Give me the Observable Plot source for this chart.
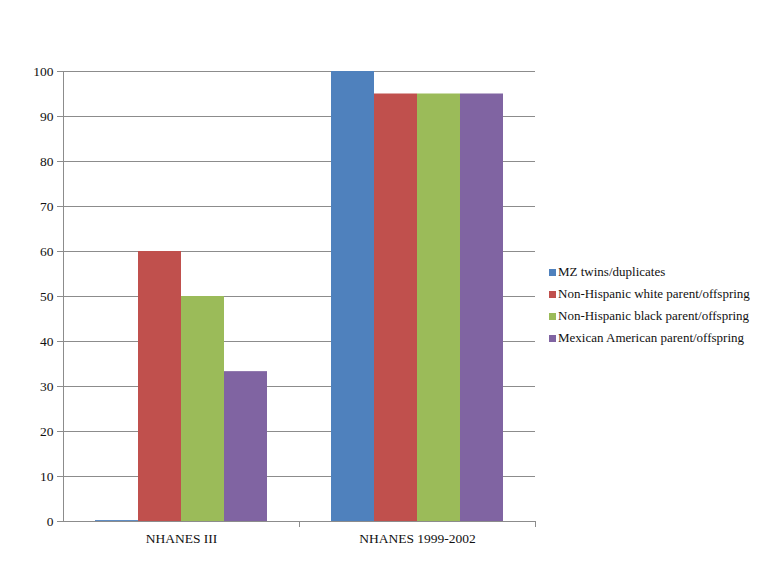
<!DOCTYPE html>
<html>
<head>
<meta charset="utf-8">
<script src="https://cdn.jsdelivr.net/npm/d3@7"></script>
<script src="https://cdn.jsdelivr.net/npm/@observablehq/plot@0.6"></script>
<style>
  html, body { margin: 0; padding: 0; background: white; }
  #wrap { position: relative; width: 777px; height: 583px; }
  #legend { position: absolute; left: 549px; top: 261px; font-family: "Liberation Serif", "DejaVu Serif", "Times New Roman", serif; font-size: 13px; color: #111; }
  .item { height: 22px; line-height: 22px; white-space: nowrap; }
  .sw { display: inline-block; width: 7px; height: 7px; margin-right: 2px; vertical-align: 0px; }
  svg text { font-family: "Liberation Serif", "DejaVu Serif", "Times New Roman", serif; }
</style>
</head>
<body>
<div id="wrap"><div id="legend"></div></div>
<script>
const groups = ["NHANES III", "NHANES 1999-2002"];
const series = [
  "MZ twins/duplicates",
  "Non-Hispanic white parent/offspring",
  "Non-Hispanic black parent/offspring",
  "Mexican American parent/offspring"
];
const valuesNhanes3 = [0.2, 60, 50, 33.3];
const valuesNhanes9902 = [100, 95, 95, 95];
const colors = ["#4F81BD", "#C0504D", "#9BBB59", "#8064A2"];
const yTicks = [0, 10, 20, 30, 40, 50, 60, 70, 80, 90, 100];

const data = [];
series.forEach((s, i) => data.push({group: groups[0], series: s, value: valuesNhanes3[i]}));
series.forEach((s, i) => data.push({group: groups[1], series: s, value: valuesNhanes9902[i]}));

const gray = "#8c8c8c";
const font = "'Liberation Serif', 'DejaVu Serif', 'Times New Roman', serif";
const chart = Plot.plot({
  width: 777, height: 583,
  marginLeft: 63, marginRight: 242, marginTop: 71, marginBottom: 62,
  style: {fontFamily: font, fontSize: "13.5px", color: "#111", background: "white"},
  fx: {domain: groups, padding: 0, label: null},
  x: {domain: series, paddingInner: 0, paddingOuter: 0.744, axis: null},
  y: {domain: [0, 100], axis: null},
  color: {domain: series, range: colors},
  marks: [
    Plot.ruleY(yTicks, {stroke: gray, strokeWidth: 1}),
    Plot.barY(data, {fx: "group", x: "series", y: "value", fill: "series"}),
    Plot.axisY(yTicks, {tickSize: 6, tickPadding: 4, stroke: gray, fill: "#111", label: null}),
    Plot.frame({anchor: "left", fx: [groups[0]], stroke: gray}),
    Plot.frame({anchor: "right", insetTop: 450, insetBottom: -5, stroke: gray}),
    Plot.axisFx({anchor: "bottom", tickSize: 0, tickPadding: 12, label: null, fill: "#111"})
  ]
});
document.getElementById("wrap").prepend(chart);

const legend = document.getElementById("legend");
series.forEach((s, i) => {
  const item = document.createElement("div");
  item.className = "item";
  const sw = document.createElement("span");
  sw.className = "sw";
  sw.style.background = colors[i];
  item.appendChild(sw);
  item.appendChild(document.createTextNode(s));
  legend.appendChild(item);
});
</script>
</body>
</html>
